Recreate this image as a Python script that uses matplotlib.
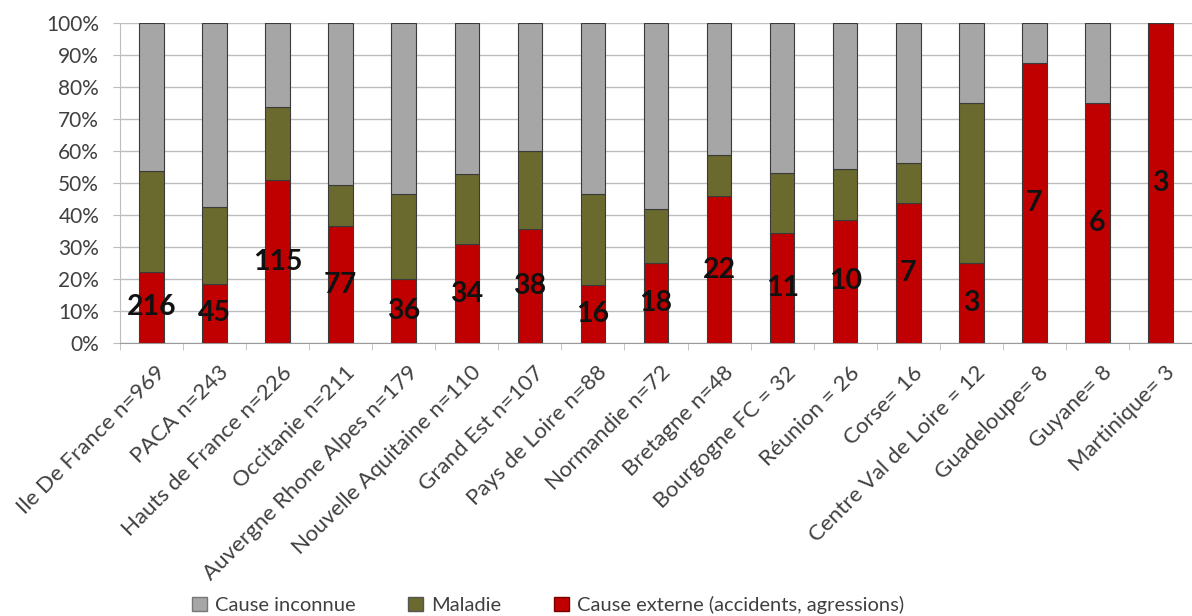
import matplotlib
matplotlib.use("Agg")
import matplotlib.pyplot as plt
from matplotlib.patches import Patch
from matplotlib.ticker import FixedLocator, PercentFormatter
from matplotlib.transforms import ScaledTranslation
import numpy as np

plt.rcParams['font.family'] = ['Lato', 'DejaVu Sans']

regions = [
    "Ile De France n=969", "PACA n=243", "Hauts de France n=226", "Occitanie n=211",
    "Auvergne Rhone Alpes n=179", "Nouvelle Aquitaine n=110", "Grand Est n=107",
    "Pays de Loire n=88", "Normandie n=72", "Bretagne n=48", "Bourgogne FC = 32",
    "Réunion = 26", "Corse= 16", "Centre Val de Loire = 12", "Guadeloupe= 8",
    "Guyane= 8", "Martinique= 3",
]
totals = [969, 243, 226, 211, 179, 110, 107, 88, 72, 48, 32, 26, 16, 12, 8, 8, 3]
externe_counts = [216, 45, 115, 77, 36, 34, 38, 16, 18, 22, 11, 10, 7, 3, 7, 6, 3]
maladie_pct = [31.5, 24.1, 22.9, 12.9, 26.4, 21.9, 24.6, 28.3, 16.9, 13.0,
               18.7, 16.0, 12.5, 50.0, 0.0, 0.0, 0.0]

legend_labels = ["Cause inconnue", "Maladie", "Cause externe (accidents, agressions)"]
colors = {"inconnue": "#A6A6A6", "maladie": "#6B6A2E", "externe": "#C00000"}

externe_pct = np.array(externe_counts) / np.array(totals) * 100
maladie = np.array(maladie_pct)
inconnue = 100 - externe_pct - maladie

fig = plt.figure(figsize=(11.92, 6.16), dpi=100)
W, H = 1192, 616
left_px, right_px, bottom_px, top_px = 120, 1192, 343, 23
ax = fig.add_axes([left_px / W, (H - bottom_px) / H,
                   (right_px - left_px) / W, (bottom_px - top_px) / H])

x = np.arange(len(regions))
spacing = 63.3
ax.set_xlim(-0.5, -0.5 + (right_px - left_px) / spacing)
ax.set_ylim(0, 100)

bw = 0.39
edge = dict(edgecolor="#3a3a3a", linewidth=0.8)
ax.bar(x, externe_pct, bw, color=colors["externe"], zorder=3, **edge)
ax.bar(x, maladie, bw, bottom=externe_pct, color=colors["maladie"], zorder=3, **edge)
ax.bar(x, inconnue, bw, bottom=externe_pct + maladie, color=colors["inconnue"], zorder=3, **edge)

# counts of external causes, centred in the red segment
for xi, p, c in zip(x, externe_pct, externe_counts):
    ax.text(xi, p / 2, str(c), ha="center", va="center", fontsize=20.5,
            fontweight="bold", color="#111111", zorder=5)

ax.yaxis.set_major_locator(FixedLocator(np.arange(0, 101, 10)))
ax.yaxis.set_major_formatter(PercentFormatter(decimals=0))
ax.grid(axis="y", color="#BDBDBD", linewidth=1.0, zorder=0)
ax.tick_params(axis="y", labelsize=15, labelcolor="#404040", length=5,
               color="#BDBDBD", pad=10)

ax.set_xticks(x)
ax.set_xticklabels(regions, rotation=45, ha="right", rotation_mode="anchor",
                   fontsize=16, color="#404040")
ax.tick_params(axis="x", length=0, pad=14)
shift = ScaledTranslation(4 / 100, 0, fig.dpi_scale_trans)
for lbl in ax.get_xticklabels():
    lbl.set_transform(lbl.get_transform() + shift)
ax.set_xticks(np.arange(-0.5, len(regions), 1), minor=True)
ax.tick_params(axis="x", which="minor", length=5, color="#BDBDBD")

for s in ["top", "right"]:
    ax.spines[s].set_visible(False)
ax.spines["left"].set_color("#BDBDBD")
ax.spines["bottom"].set_color("#9A9A9A")

handles = [Patch(facecolor=colors["inconnue"], edgecolor="#777777"),
           Patch(facecolor=colors["maladie"], edgecolor="#555555"),
           Patch(facecolor=colors["externe"], edgecolor="#7a0000")]
fig.legend(handles, legend_labels, loc="center", bbox_to_anchor=(548 / W, 1 - 605 / H),
           ncol=3, frameon=False, fontsize=14.5, handlelength=0.75, handleheight=0.75,
           handletextpad=0.4, columnspacing=2.6, labelcolor="#404040")

fig.savefig("out.png", dpi=100)
